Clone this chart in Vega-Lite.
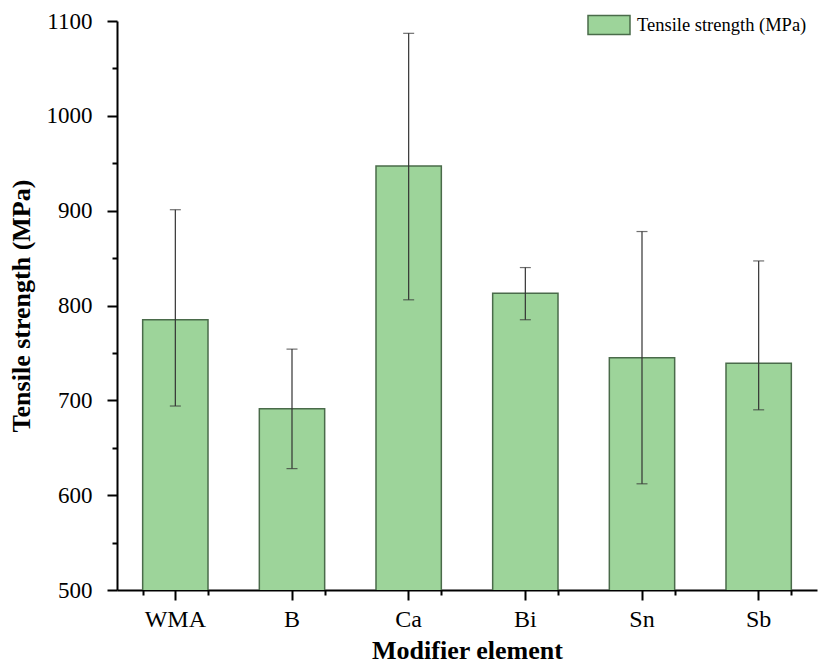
{
  "$schema": "https://vega.github.io/schema/vega-lite/v6.json",
  "width": 700,
  "height": 569,
  "autosize": {"type": "none"},
  "padding": {"left": 117, "top": 21, "right": 1, "bottom": 76},
  "background": "white",
  "config": {
    "view": {"stroke": null},
    "font": "Liberation Serif",
    "axis": {"labelFont": "Liberation Serif", "titleFont": "Liberation Serif", "domainColor": "black", "domainWidth": 2, "tickColor": "black", "tickWidth": 2, "labelColor": "black", "titleColor": "black", "grid": false},
    "legend": {"labelFont": "Liberation Serif"}
  },
  "data": {
    "values": [
      {"element": "WMA", "mean": 785, "lo": 694, "hi": 901},
      {"element": "B", "mean": 691, "lo": 628, "hi": 754},
      {"element": "Ca", "mean": 947, "lo": 806, "hi": 1087},
      {"element": "Bi", "mean": 813, "lo": 785, "hi": 840},
      {"element": "Sn", "mean": 745, "lo": 612, "hi": 878},
      {"element": "Sb", "mean": 739, "lo": 690, "hi": 847}
    ]
  },
  "resolve": {"axis": {"x": "independent", "y": "independent"}},
  "layer": [
    {
      "mark": {"type": "bar", "stroke": "#4a6b4a", "strokeWidth": 1.5, "clip": true},
      "encoding": {
        "x": {
          "field": "element", "type": "nominal", "sort": null,
          "scale": {"paddingInner": 0.44, "paddingOuter": 0.22},
          "axis": {"orient": "bottom", "title": "Modifier element", "labelAngle": 0, "labelFontSize": 24, "labelPadding": 7, "tickSize": 10, "titleFontSize": 26, "titleFontWeight": "bold", "titlePadding": 6}
        },
        "y": {
          "field": "mean", "type": "quantitative",
          "scale": {"domain": [500, 1100], "nice": false, "zero": false},
          "axis": {"orient": "left", "title": "Tensile strength (MPa)", "format": "d", "values": [500, 600, 700, 800, 900, 1000, 1100], "labelFontSize": 23, "labelPadding": 15, "tickSize": 10, "titleFontSize": 26, "titleFontWeight": "bold", "titlePadding": 12}
        },
        "color": {
          "datum": "Tensile strength (MPa)",
          "scale": {"range": ["#9dd49a"]},
          "legend": {
            "title": null, "orient": "none", "legendX": 470, "legendY": -18, "padding": 0,
            "symbolType": "M-1,-0.452H1V0.452H-1Z", "symbolSize": 1764, "symbolStrokeColor": "#4a6b4a", "symbolStrokeWidth": 1.5, "symbolOpacity": 1,
            "labelFontSize": 18.5, "labelLimit": 400, "labelOffset": 6, "labelColor": "black", "labelFont": "Liberation Serif"
          }
        }
      }
    },
    {
      "mark": {"type": "errorbar", "ticks": {"size": 11, "thickness": 1.2, "color": "#333333"}, "rule": {"color": "#333333", "strokeWidth": 1.2}},
      "encoding": {
        "x": {
          "field": "element", "type": "nominal", "sort": null,
          "axis": {"orient": "bottom", "title": null, "labels": false, "domain": false, "tickBand": "extent", "tickSize": 5}
        },
        "y": {
          "field": "lo", "type": "quantitative",
          "axis": {"orient": "left", "title": null, "labels": false, "domain": false, "values": [550, 650, 750, 850, 950, 1050], "tickSize": 5}
        },
        "y2": {"field": "hi"}
      }
    }
  ]
}
